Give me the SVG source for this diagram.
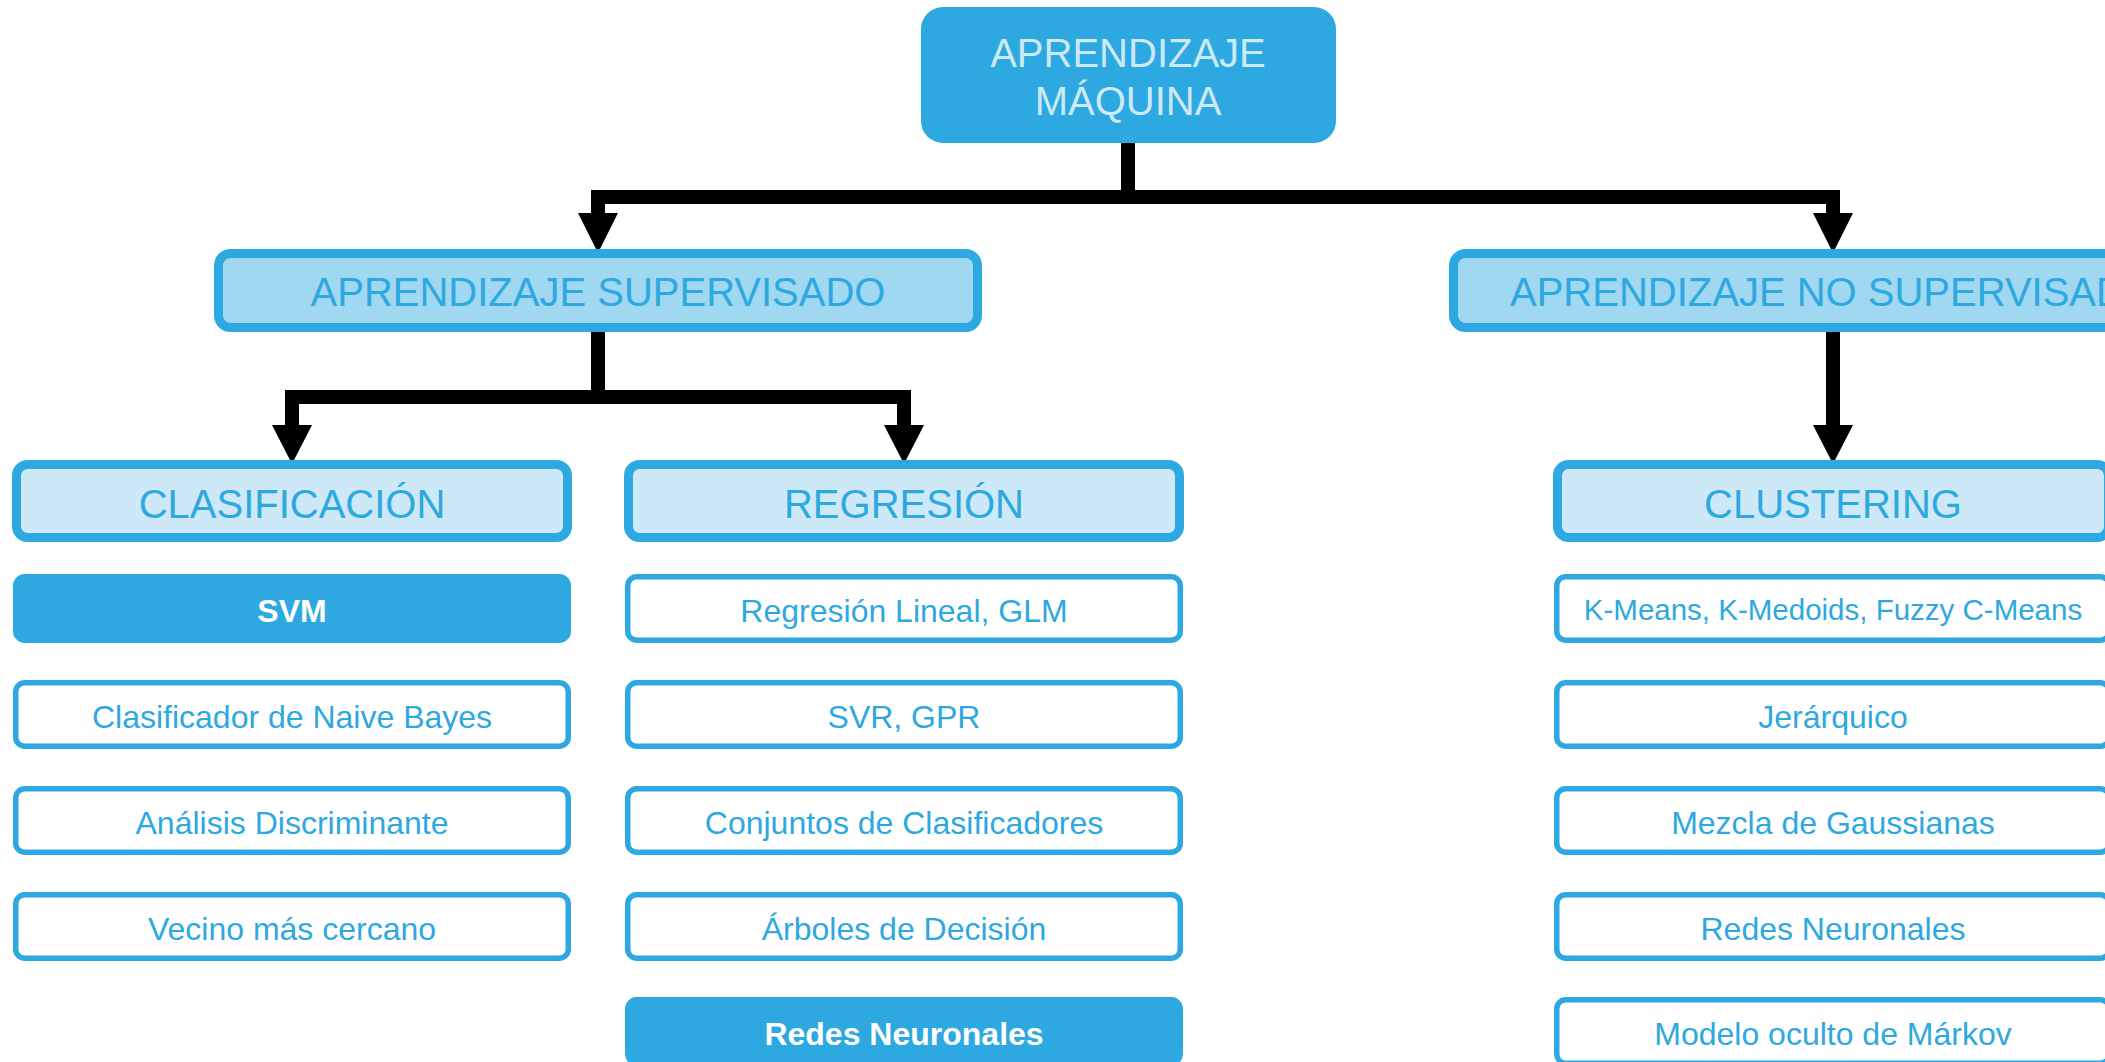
<svg xmlns="http://www.w3.org/2000/svg" width="2105" height="1062" viewBox="0 0 2105 1062">
<style>
text{font-family:"Liberation Sans",Arial,sans-serif;text-anchor:middle}
.root{fill:#2ea8e0}
.roott{fill:#cbe9f7;font-size:40px}
.lvl1{fill:#a0d8f1;stroke:#2ea8e0;stroke-width:9}
.lvl2{fill:#cde9f7;stroke:#2ea8e0;stroke-width:9}
.ht{fill:#2ea8e0;font-size:40px}
.item{fill:#ffffff;stroke:#2ea8e0;stroke-width:5.5}
.itemf{fill:#2ea8e0;stroke:#2ea8e0;stroke-width:5.5}
.it{fill:#2ea8e0;font-size:32px}
.itf{fill:#ffffff;font-size:32px;font-weight:bold}
.conn{fill:none;stroke:#000;stroke-width:14;stroke-linejoin:miter;stroke-linecap:butt}
.head{fill:#000}
</style>
<rect width="2105" height="1062" fill="#ffffff"/>

<g id="connectors">
<path class="conn" d="M1128 140 V197 H598 V215"/>
<path class="conn" d="M1128 197 H1833 V215"/>
<polygon class="head" points="578,213 618,213 598,253"/>
<polygon class="head" points="1813,213 1853,213 1833,253"/>
<path class="conn" d="M598 328 V397 H292 V427"/>
<path class="conn" d="M598 397 H904 V427"/>
<path class="conn" d="M1833 328 V427"/>
<polygon class="head" points="272,425 312,425 292,464"/>
<polygon class="head" points="884,425 924,425 904,464"/>
<polygon class="head" points="1813,425 1853,425 1833,464"/>
</g>

<g id="n-root">
<rect class="root" x="921" y="7" width="415" height="136" rx="22"/>
<text class="roott" x="1128" y="67">APRENDIZAJE</text>
<text class="roott" x="1128" y="115">MÁQUINA</text>
</g>

<g id="n-supervisado">
<rect class="lvl1" x="218.5" y="253.5" width="759" height="74" rx="12"/>
<text class="ht" x="598" y="306">APRENDIZAJE SUPERVISADO</text>
</g>
<g id="n-nosupervisado">
<rect class="lvl1" x="1453.5" y="253.5" width="759" height="74" rx="12"/>
<text class="ht" x="1833" y="306">APRENDIZAJE NO SUPERVISADO</text>
</g>

<g id="n-clasificacion">
<rect class="lvl2" x="16.5" y="464.5" width="551" height="73" rx="11"/>
<text class="ht" x="292" y="518">CLASIFICACIÓN</text>
</g>
<g id="n-regresion">
<rect class="lvl2" x="628.5" y="464.5" width="551" height="73" rx="11"/>
<text class="ht" x="904" y="518">REGRESIÓN</text>
</g>
<g id="n-clustering">
<rect class="lvl2" x="1557.5" y="464.5" width="551" height="73" rx="11"/>
<text class="ht" x="1833" y="518">CLUSTERING</text>
</g>

<!-- Clasificación items -->
<g id="n-svm">
<rect class="itemf" x="15.75" y="576.75" width="552.5" height="63.5" rx="9"/>
<text class="itf" x="292" y="622">SVM</text>
</g>
<g id="n-naive">
<rect class="item" x="15.75" y="682.75" width="552.5" height="63.5" rx="9"/>
<text class="it" x="292" y="728">Clasificador de Naive Bayes</text>
</g>
<g id="n-discriminante">
<rect class="item" x="15.75" y="788.75" width="552.5" height="63.5" rx="9"/>
<text class="it" x="292" y="834">Análisis Discriminante</text>
</g>
<g id="n-vecino">
<rect class="item" x="15.75" y="894.75" width="552.5" height="63.5" rx="9"/>
<text class="it" x="292" y="940">Vecino más cercano</text>
</g>

<!-- Regresión items -->
<g id="n-lineal">
<rect class="item" x="627.75" y="576.75" width="552.5" height="63.5" rx="9"/>
<text class="it" x="904" y="622">Regresión Lineal, GLM</text>
</g>
<g id="n-svr">
<rect class="item" x="627.75" y="682.75" width="552.5" height="63.5" rx="9"/>
<text class="it" x="904" y="728">SVR, GPR</text>
</g>
<g id="n-conjuntos">
<rect class="item" x="627.75" y="788.75" width="552.5" height="63.5" rx="9"/>
<text class="it" x="904" y="834">Conjuntos de Clasificadores</text>
</g>
<g id="n-arboles">
<rect class="item" x="627.75" y="894.75" width="552.5" height="63.5" rx="9"/>
<text class="it" x="904" y="940">Árboles de Decisión</text>
</g>
<g id="n-redes-reg">
<rect class="itemf" x="627.75" y="999.75" width="552.5" height="63.5" rx="9"/>
<text class="itf" x="904" y="1045">Redes Neuronales</text>
</g>

<!-- Clustering items -->
<g id="n-kmeans">
<rect class="item" x="1556.75" y="576.75" width="552.5" height="63.5" rx="9"/>
<text class="it" x="1833" y="620" style="font-size:29.5px">K-Means, K-Medoids, Fuzzy C-Means</text>
</g>
<g id="n-jerarquico">
<rect class="item" x="1556.75" y="682.75" width="552.5" height="63.5" rx="9"/>
<text class="it" x="1833" y="728">Jerárquico</text>
</g>
<g id="n-gaussianas">
<rect class="item" x="1556.75" y="788.75" width="552.5" height="63.5" rx="9"/>
<text class="it" x="1833" y="834">Mezcla de Gaussianas</text>
</g>
<g id="n-redes-clu">
<rect class="item" x="1556.75" y="894.75" width="552.5" height="63.5" rx="9"/>
<text class="it" x="1833" y="940">Redes Neuronales</text>
</g>
<g id="n-markov">
<rect class="item" x="1556.75" y="999.75" width="552.5" height="63.5" rx="9"/>
<text class="it" x="1833" y="1045">Modelo oculto de Márkov</text>
</g>
</svg>
